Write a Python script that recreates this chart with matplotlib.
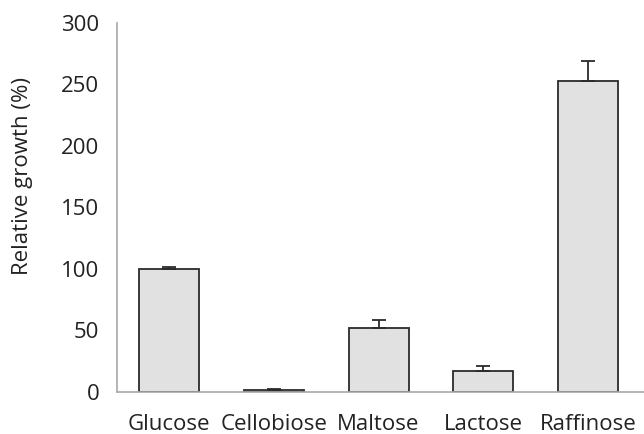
import numpy as np
import matplotlib.pyplot as plt

# sugar sources and relative growth (% of glucose)
sugars = ['Glucose', 'Cellobiose', 'Maltose', 'Lactose', 'Raffinose']
growth = [100, 1.4, 52, 17, 253]
err_up = [1.2, 0.8, 6.5, 4, 16]

plt.rcParams['font.family'] = ['Open Sans', 'DejaVu Sans']

fig = plt.figure(figsize=(6.44, 4.34), dpi=100)
ax = fig.add_axes([0.182, 0.097, 0.818, 0.850])

x = np.arange(len(sugars))
ax.bar(x, growth, width=0.573, color='#e1e1e1', edgecolor='#2b2b2b', linewidth=1.3,
       yerr=[np.zeros(len(err_up)), err_up], capsize=5,
       error_kw=dict(ecolor='#2b2b2b', elinewidth=1.3, capthick=1.3))

ax.set_xlim(-0.496, 4.535)
ax.set_ylim(0, 300)
ax.set_yticks(np.arange(0, 301, 50))
ax.set_xticks(x)
ax.set_xticklabels(sugars)
ax.tick_params(length=0, labelsize=16, colors='#222222')
ax.tick_params(axis='y', pad=13)
ax.tick_params(axis='x', pad=16)
ax.set_ylabel('Relative growth (%)', fontsize=16, color='#222222')
# label sits a bit above the middle of the axis, as in the original
ax.yaxis.set_label_coords(-0.16, 0.585)

for s in ['top', 'right']:
    ax.spines[s].set_visible(False)
for s in ['left', 'bottom']:
    ax.spines[s].set_color('#a8a8a8')
    ax.spines[s].set_linewidth(1.2)

fig.savefig('out.png', dpi=100)
